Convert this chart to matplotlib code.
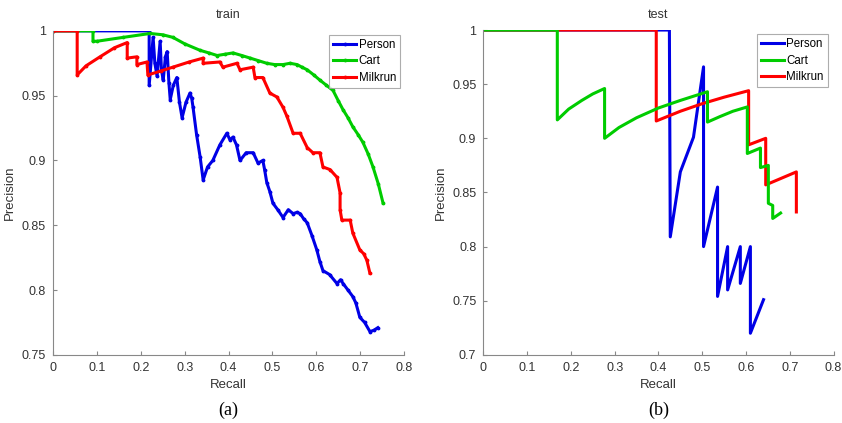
import matplotlib
matplotlib.use("Agg")
import matplotlib.pyplot as plt

# ---------------- data: train ----------------
train_person_r = [0.0, 0.219, 0.219, 0.228, 0.232, 0.237, 0.244, 0.247, 0.251, 0.256, 0.260, 0.264, 0.267,
                  0.274, 0.282, 0.288, 0.294, 0.303, 0.312, 0.316, 0.319, 0.327, 0.335, 0.342, 0.352, 0.364,
                  0.380, 0.396, 0.403, 0.410, 0.418, 0.426, 0.440, 0.456, 0.467, 0.478, 0.482, 0.487, 0.494,
                  0.501, 0.512, 0.524, 0.536, 0.547, 0.556, 0.563, 0.571, 0.579, 0.590, 0.601, 0.608, 0.615,
                  0.630, 0.647, 0.655, 0.661, 0.672, 0.683, 0.690, 0.699, 0.710, 0.722, 0.731, 0.740]
train_person_p = [1.0, 1.0, 0.958, 0.995, 0.975, 0.965, 0.992, 0.970, 0.962, 0.980, 0.984, 0.960, 0.947,
                  0.958, 0.964, 0.945, 0.933, 0.945, 0.952, 0.948, 0.941, 0.920, 0.903, 0.885, 0.895, 0.900,
                  0.912, 0.921, 0.916, 0.918, 0.912, 0.900, 0.906, 0.906, 0.898, 0.900, 0.893, 0.883, 0.876,
                  0.867, 0.862, 0.856, 0.862, 0.859, 0.860, 0.859, 0.855, 0.852, 0.842, 0.831, 0.822, 0.815,
                  0.812, 0.805, 0.808, 0.805, 0.800, 0.795, 0.790, 0.779, 0.775, 0.768, 0.769, 0.771]

train_cart_r = [0.0, 0.091, 0.091, 0.100, 0.160, 0.221, 0.250, 0.273, 0.300, 0.335, 0.355, 0.374, 0.392,
                0.410, 0.430, 0.449, 0.468, 0.487, 0.505, 0.524, 0.540, 0.556, 0.567, 0.579, 0.594, 0.608,
                0.623, 0.638, 0.650, 0.661, 0.672, 0.683, 0.695, 0.706, 0.718, 0.729, 0.741, 0.752]
train_cart_p = [1.0, 1.0, 0.992, 0.992, 0.995, 0.998, 0.997, 0.995, 0.990, 0.985, 0.983, 0.981, 0.982,
                0.983, 0.981, 0.979, 0.977, 0.975, 0.974, 0.974, 0.975, 0.974, 0.972, 0.970, 0.966, 0.962,
                0.958, 0.954, 0.946, 0.939, 0.933, 0.926, 0.920, 0.914, 0.905, 0.895, 0.882, 0.867]

train_milk_r = [0.0, 0.055, 0.055, 0.075, 0.107, 0.140, 0.169, 0.169, 0.191, 0.191, 0.214, 0.216, 0.245,
                0.273, 0.310, 0.342, 0.342, 0.380, 0.387, 0.419, 0.426, 0.456, 0.460, 0.478, 0.494, 0.510,
                0.524, 0.533, 0.547, 0.563, 0.579, 0.592, 0.608, 0.615, 0.631, 0.647, 0.654, 0.654, 0.658,
                0.677, 0.683, 0.699, 0.708, 0.715, 0.722]
train_milk_p = [1.0, 1.0, 0.966, 0.973, 0.980, 0.987, 0.991, 0.979, 0.980, 0.974, 0.976, 0.966, 0.969,
                0.972, 0.976, 0.979, 0.975, 0.976, 0.972, 0.975, 0.970, 0.972, 0.964, 0.964, 0.952, 0.949,
                0.941, 0.934, 0.921, 0.921, 0.910, 0.906, 0.906, 0.895, 0.893, 0.887, 0.875, 0.862, 0.854,
                0.854, 0.844, 0.831, 0.828, 0.823, 0.813]

# ---------------- data: test ----------------
test_person_r = [0.0, 0.425, 0.427, 0.450, 0.480, 0.503, 0.503, 0.535, 0.535, 0.558, 0.558, 0.587, 0.587,
                 0.610, 0.610, 0.640]
test_person_p = [1.0, 1.0, 0.809, 0.869, 0.901, 0.966, 0.800, 0.855, 0.754, 0.800, 0.760, 0.800, 0.766,
                 0.800, 0.720, 0.751]

test_cart_r = [0.0, 0.169, 0.169, 0.195, 0.225, 0.250, 0.277, 0.277, 0.310, 0.350, 0.400, 0.450, 0.512,
               0.512, 0.540, 0.570, 0.603, 0.603, 0.633, 0.633, 0.651, 0.651, 0.661, 0.661, 0.679]
test_cart_p = [1.0, 1.0, 0.917, 0.927, 0.935, 0.941, 0.946, 0.900, 0.910, 0.919, 0.928, 0.935, 0.943,
               0.915, 0.920, 0.925, 0.929, 0.886, 0.891, 0.873, 0.875, 0.840, 0.838, 0.826, 0.831]

test_milk_r = [0.0, 0.395, 0.395, 0.450, 0.500, 0.550, 0.606, 0.606, 0.645, 0.645, 0.715, 0.715]
test_milk_p = [1.0, 1.0, 0.916, 0.925, 0.932, 0.938, 0.944, 0.894, 0.900, 0.857, 0.869, 0.832]

labels = ["Person", "Cart", "Milkrun"]
colors = ["#0000e6", "#00cc00", "#ff0000"]

plt.rcParams['font.family'] = ['Liberation Sans', 'DejaVu Sans']

fig = plt.figure(figsize=(8.42, 4.23), dpi=100)
ax1 = fig.add_axes([0.063, 0.161, 0.417, 0.766])
ax2 = fig.add_axes([0.574, 0.161, 0.416, 0.768])

def style(ax, ylim, yticks, ylabels, title):
    ax.set_xlim(0, 0.8)
    ax.set_ylim(*ylim)
    ax.set_xticks([0, 0.1, 0.2, 0.3, 0.4, 0.5, 0.6, 0.7, 0.8])
    ax.set_xticklabels(["0", "0.1", "0.2", "0.3", "0.4", "0.5", "0.6", "0.7", "0.8"])
    ax.set_yticks(yticks)
    ax.set_yticklabels(ylabels)
    for s in ["top", "right"]:
        ax.spines[s].set_visible(False)
    for s in ["left", "bottom"]:
        ax.spines[s].set_color("#888888")
        ax.spines[s].set_linewidth(0.8)
    ax.tick_params(direction="in", length=3, color="#888888", labelsize=9, labelcolor="#333333", pad=5)
    ax.set_xlabel("Recall", fontsize=9.5, color="#333333", labelpad=4)
    ax.set_ylabel("Precision", fontsize=9.5, color="#333333", labelpad=4)
    ax.set_title(title, fontsize=9, color="#333333", pad=9)

legend_kw = dict(fontsize=8.3, frameon=True, fancybox=False, handlelength=2.0, handletextpad=0.2,
                 borderpad=0.35, labelspacing=0.4, borderaxespad=0.2)

# train
lw = 2.2
ax1.plot(train_person_r, train_person_p, color=colors[0], lw=lw, marker='.', ms=3.5, label=labels[0])
ax1.plot(train_cart_r, train_cart_p, color=colors[1], lw=lw, marker='.', ms=3.5, label=labels[1])
ax1.plot(train_milk_r, train_milk_p, color=colors[2], lw=lw, marker='.', ms=3.5, label=labels[2])
style(ax1, (0.75, 1.0), [0.75, 0.8, 0.85, 0.9, 0.95, 1.0], ["0.75", "0.8", "0.85", "0.9", "0.95", "1"], "train")
leg1 = ax1.legend(loc="upper right", bbox_to_anchor=(0.995, 0.995), **legend_kw)
leg1.get_frame().set_edgecolor("#999999")
leg1.get_frame().set_linewidth(0.8)

# test
h1, = ax2.plot(test_person_r, test_person_p, color=colors[0], lw=lw, label=labels[0])
h3, = ax2.plot(test_milk_r, test_milk_p, color=colors[2], lw=lw, label=labels[2])
h2, = ax2.plot(test_cart_r, test_cart_p, color=colors[1], lw=lw, label=labels[1])
style(ax2, (0.7, 1.0), [0.7, 0.75, 0.8, 0.85, 0.9, 0.95, 1.0], ["0.7", "0.75", "0.8", "0.85", "0.9", "0.95", "1"], "test")
leg2 = ax2.legend([h1, h2, h3], labels, loc="upper right", bbox_to_anchor=(0.99, 0.995), **legend_kw)
leg2.get_frame().set_edgecolor("#999999")
leg2.get_frame().set_linewidth(0.8)

fig.text(0.271, 0.031, "(a)", fontsize=13, family=["Liberation Serif", "DejaVu Serif"], ha="center", va="center")
fig.text(0.782, 0.031, "(b)", fontsize=13, family=["Liberation Serif", "DejaVu Serif"], ha="center", va="center")

fig.savefig("out.png", dpi=100, facecolor="white")
